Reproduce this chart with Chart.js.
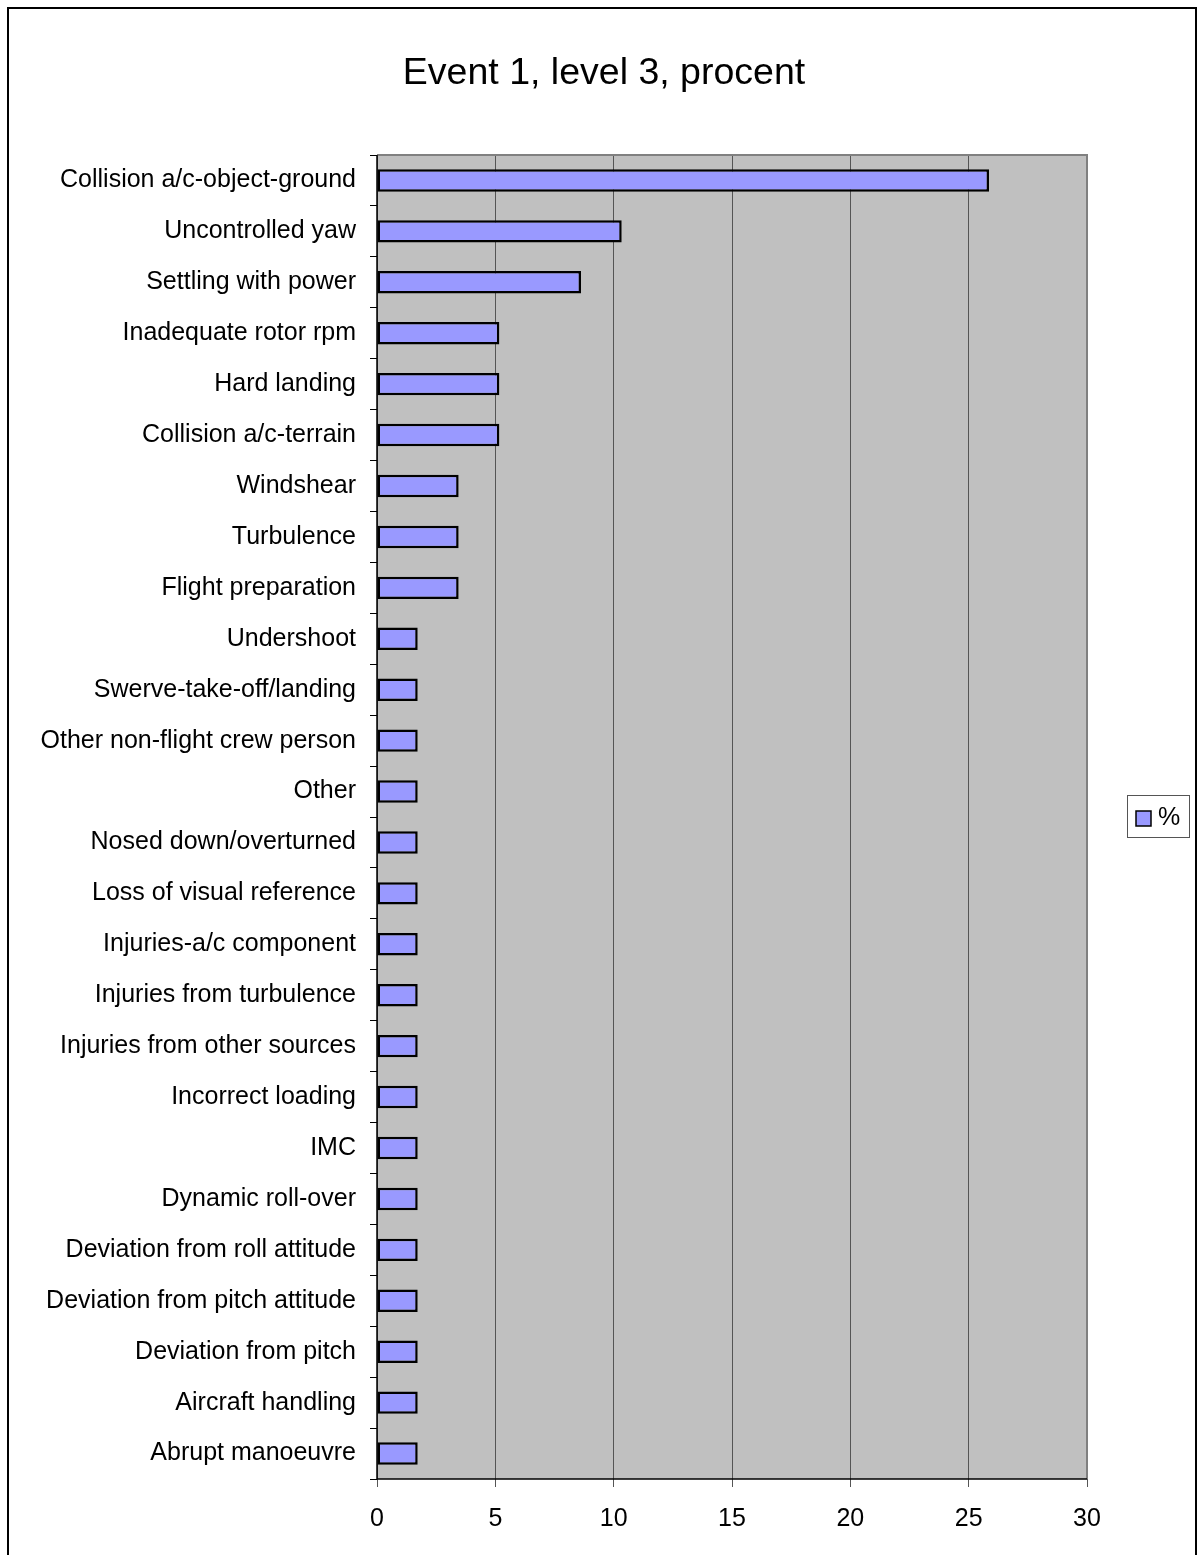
<!DOCTYPE html>
<html>
<head>
<meta charset="utf-8">
<title>Event 1, level 3, procent</title>
<script src="https://cdn.jsdelivr.net/npm/chart.js@4.4.1/dist/chart.umd.min.js"></script>
<style>
    html, body { margin: 0; padding: 0; background: #fff; }
    canvas { display: block; }
</style>
</head>
<body>
<canvas id="event-chart" width="1198" height="1555"></canvas>
<script>
const categories = [
    'Collision a/c-object-ground',
    'Uncontrolled yaw',
    'Settling with power',
    'Inadequate rotor rpm',
    'Hard landing',
    'Collision a/c-terrain',
    'Windshear',
    'Turbulence',
    'Flight preparation',
    'Undershoot',
    'Swerve-take-off/landing',
    'Other non-flight crew person',
    'Other',
    'Nosed down/overturned',
    'Loss of visual reference',
    'Injuries-a/c component',
    'Injuries from turbulence',
    'Injuries from other sources',
    'Incorrect loading',
    'IMC',
    'Dynamic roll-over',
    'Deviation from roll attitude',
    'Deviation from pitch attitude',
    'Deviation from pitch',
    'Aircraft handling',
    'Abrupt manoeuvre'
];

const percentValues = [
    25.86, 10.34, 8.62, 5.17, 5.17, 5.17, 3.45, 3.45, 3.45,
    1.72, 1.72, 1.72, 1.72, 1.72, 1.72, 1.72, 1.72, 1.72,
    1.72, 1.72, 1.72, 1.72, 1.72, 1.72, 1.72, 1.72
];

const xTicks = [0, 5, 10, 15, 20, 25, 30];

const FONT = 'Arial, "Liberation Sans", Helvetica, sans-serif';
const BAR_COLOR = '#9999FF';

// frame, title, grey plot area and the small legend box
const decorPlugin = {
    id: 'decor',
    beforeDraw(chart) {
        const { ctx, chartArea: a } = chart;
        ctx.save();
        ctx.fillStyle = '#C0C0C0';
        ctx.fillRect(a.left, a.top, a.right - a.left, a.bottom - a.top);
        ctx.restore();
    },
    afterDraw(chart) {
        const { ctx, chartArea: a } = chart;
        ctx.save();

        // plot area border
        ctx.strokeStyle = '#808080';
        ctx.lineWidth = 2;
        ctx.beginPath();
        ctx.moveTo(a.left, a.top);
        ctx.lineTo(a.right, a.top);
        ctx.lineTo(a.right, a.bottom);
        ctx.stroke();
        ctx.strokeStyle = '#000';
        ctx.lineWidth = 1.5;
        ctx.beginPath();
        ctx.moveTo(a.left, a.top);
        ctx.lineTo(a.left, a.bottom);
        ctx.lineTo(a.right, a.bottom);
        ctx.stroke();

        // outer chart frame
        ctx.strokeStyle = '#000';
        ctx.lineWidth = 2;
        ctx.strokeRect(8, 8, 1188, 1560);

        // title
        ctx.fillStyle = '#000';
        ctx.font = '37.5px ' + FONT;
        ctx.textAlign = 'center';
        ctx.textBaseline = 'middle';
        ctx.fillText('Event 1, level 3, procent', 604, 74);

        // legend
        ctx.fillStyle = '#fff';
        ctx.fillRect(1127, 795, 62, 42);
        ctx.strokeStyle = '#555';
        ctx.lineWidth = 1;
        ctx.strokeRect(1127.5, 795.5, 62, 42);
        ctx.fillStyle = BAR_COLOR;
        ctx.fillRect(1136, 811, 15, 15);
        ctx.strokeStyle = '#000';
        ctx.lineWidth = 1.5;
        ctx.strokeRect(1136, 811, 15, 15);
        ctx.fillStyle = '#000';
        ctx.font = '25px ' + FONT;
        ctx.textAlign = 'left';
        ctx.fillText('%', 1158, 818);

        ctx.restore();
    }
};

new Chart(document.getElementById('event-chart').getContext('2d'), {
    type: 'bar',
    data: {
        labels: categories,
        datasets: [{
            label: '%',
            data: percentValues,
            backgroundColor: BAR_COLOR,
            borderColor: '#000',
            borderWidth: 2.5,
            borderSkipped: false,
            categoryPercentage: 1,
            barPercentage: 0.44
        }]
    },
    options: {
        indexAxis: 'y',
        responsive: false,
        animation: false,
        devicePixelRatio: 1,
        layout: {
            padding: { left: 0, right: 111, top: 155, bottom: 16 }
        },
        plugins: {
            legend: { display: false },
            title: { display: false },
            tooltip: { enabled: false }
        },
        scales: {
            x: {
                min: 0,
                max: 30,
                afterBuildTicks: scale => {
                    scale.ticks = xTicks.map(v => ({ value: v }));
                },
                afterFit: scale => { scale.height = 60; },
                border: { display: false },
                grid: {
                    color: '#555',
                    lineWidth: 1,
                    tickLength: 8,
                    tickColor: '#555'
                },
                ticks: {
                    color: '#000',
                    padding: 17,
                    font: { family: FONT, size: 25 }
                }
            },
            y: {
                afterFit: scale => { scale.width = 377; },
                border: { display: false },
                grid: {
                    offset: true,
                    drawOnChartArea: false,
                    tickLength: 7,
                    color: '#000',
                    lineWidth: 1
                },
                ticks: {
                    color: '#000',
                    padding: 14,
                    autoSkip: false,
                    font: { family: FONT, size: 25 }
                }
            }
        }
    },
    plugins: [decorPlugin]
});
</script>
</body>
</html>
